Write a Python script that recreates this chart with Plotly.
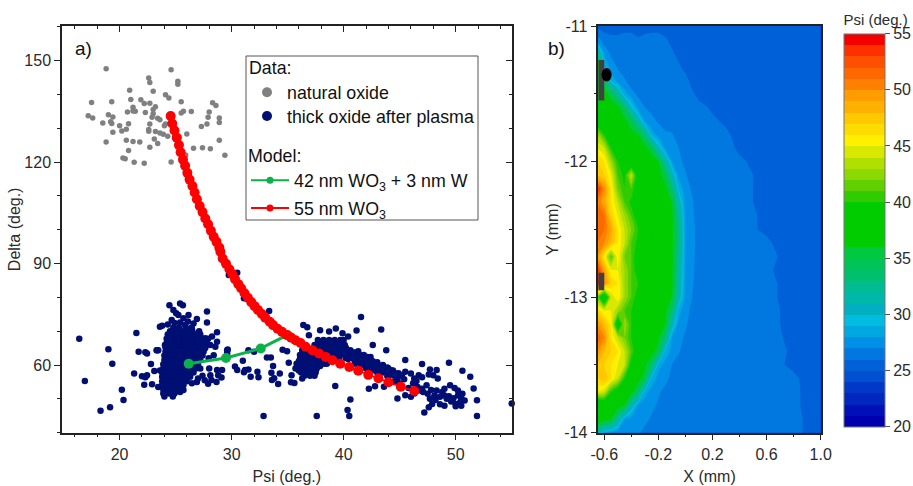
import plotly.graph_objects as go

# ---------- panel a data (Psi, Delta) ----------
natural_oxide = [
 (18.8,147.6),(24.6,147.3),(22.6,144.8),(22.7,143.5),(25.2,143.9),(25.2,143.0),(20.9,141.2),(23.0,140.9),
 (24.1,139.9),(24.4,138.9),(21.0,138.5),(21.9,138.4),(22.2,137.3),(22.7,137.4),(25.5,137.8),(17.5,137.6),
 (19.3,137.8),(28.3,137.5),(28.6,136.7),(21.2,136.2),(23.2,136.3),(23.0,135.5),(20.7,134.8),(21.2,135.1),
 (21.4,135.0),(22.3,134.6),(23.0,134.3),(25.7,135.0),(25.5,134.5),(26.4,134.9),(28.0,134.8),(17.2,133.7),
 (17.6,133.0),(19.0,134.0),(19.4,133.3),(22.9,133.2),(23.4,132.9),(23.6,132.5),(27.9,133.2),(28.9,133.0),
 (28.9,131.7),(18.5,131.5),(19.2,131.9),(19.3,131.4),(20.8,131.3),(20.0,130.7),(22.7,131.2),(24.1,131.2),
 (24.0,130.7),(27.8,131.2),(27.3,130.5),(20.6,129.7),(20.2,129.2),(19.4,128.8),(22.6,129.6),(22.6,129.1),
 (23.2,129.0),(23.6,128.6),(23.9,128.2),(24.3,127.6),(24.8,129.0),(26.0,128.3),(25.3,127.4),(23.1,126.8),
 (23.4,125.5),(20.6,126.4),(21.2,126.1),(21.8,125.9),(18.8,125.9),(28.9,126.4),(22.7,124.4),(20.8,123.4),
 (26.6,124.1),(27.4,124.2),(28.1,123.9),(25.9,122.1),(29.4,122.0),(20.3,121.2),(20.5,121.0),(21.3,119.9),
 (22.2,119.6),(24.6,120.0),
]
thick_sparse = [
 (16.4,67.8),(19.0,64.7),(19.35,60.4),(16.9,55.3),(20.2,52.7),(20.35,49.7),(19.15,47.5),(18.3,46.5),(21.5,69.5),
 (21.7,63.9),(22.3,63.8),(22.45,63.4),(23.35,64.4),(22.8,60.3),(21.3,57.5),(22.0,56.7),(22.45,57.0),(22.3,56.4),
 (23.1,58.2),(22.2,54.2),(22.9,54.3),(32.85,44.9),(37.6,44.9),(40.5,44.9),(40.35,46.7),(40.6,49.8),(39.25,53.8),
 (51.9,44.9),(51.9,49.6),(55.0,48.6),(47.2,46.0),(44.8,50.1),(45.5,51.1),(46.0,50.6),(42.25,53.0),(42.8,53.7),
 (43.6,53.6),(49.4,60.7),(47.0,60.3),(45.5,61.5),(50.6,58.3),(51.3,56.5),(51.6,53.1),(43.8,64.4),(42.6,65.9),
 (43.35,70.5),(41.55,74.2),(41.15,70.2),(40.4,68.4),(39.9,69.4),(39.3,70.8),(38.7,69.9),(37.9,70.3),(36.4,71.8),
 (36.75,71.2),(36.9,68.8),(33.35,76.0),(31.1,79.7),(29.75,86.6),(30.5,87.3),(29.65,64.6),(29.6,63.6),(31.0,61.3),
 (30.3,59.6),(30.5,58.5),(31.2,58.5),(31.5,58.7),(31.1,57.9),(31.7,56.5),(32.3,58.0),(32.4,56.4),(31.5,64.4),
 (32.0,63.9),(33.15,62.2),(33.5,62.2),(33.7,59.7),(34.3,57.5),(33.55,57.7),(33.6,55.6),(33.8,56.1),(34.15,54.4),
 (34.55,64.5),(34.95,64.1),(35.1,60.7),(35.35,57.0),(35.3,54.9),(35.6,54.7),(36.3,56.0),
 # edges of the first cloud
 (24.45,77.7),(25.4,78.2),(25.65,77.7),(24.8,76.3),(25.05,75.3),(24.65,73.3),(25.25,74.8),(25.7,73.8),(26.15,74.8),
 (27.8,75.8),(27.8,72.6),(26.9,73.6),(23.6,71.3),(23.8,71.6),(26.6,72.3),(26.45,70.8),(25.85,71.8),(28.7,69.7),
 (28.25,68.4),(27.65,67.9),(28.7,66.9),(28.1,65.9),(28.55,65.4),(27.65,65.0),(23.45,64.4),(23.3,64.4),(24.05,65.9),
 (29.6,64.4),(29.6,63.0),(27.95,62.0),(28.4,62.9),(29.15,58.5),(28.7,58.5),(28.0,59.0),(28.1,57.0),(28.8,57.0),
 (29.1,56.3),(28.2,55.6),(28.65,55.0),(27.9,54.5),(27.2,59.0),(27.4,56.8),(27.6,55.5),(26.9,55.0),(27.0,56.0),
 (23.9,51.6),(24.0,50.7),(24.75,50.7),(25.4,52.0),(25.7,52.6),(26.45,54.6),(23.6,58.4),(23.45,53.5),
 (24.9,72.4),(25.4,72.6),(24.3,72.0),(26.1,72.9),
 # above the model curve between the clouds and the tail
 (42.1,60.5),(43.0,58.5),(43.9,56.7),(44.8,55.6),(41.6,62.8),(42.4,62.4),(43.0,60.8),(43.5,60.0),(43.9,59.3),
 (44.4,58.4),(44.9,57.6),(40.9,63.6),(41.3,64.1),(39.6,61.9),(40.2,62.1),(40.8,62.4),
 # tail towards high Psi
 (44.5,55.0),(45.0,54.5),(45.4,55.8),(45.8,53.2),(46.2,54.6),(46.6,53.5),(47.0,53.0),(47.4,54.0),(47.8,52.6),
 (48.1,51.0),(47.5,51.5),(47.1,52.0),(46.7,52.5),(46.3,51.6),(47.7,50.0),(48.2,49.7),(47.9,48.5),(47.6,47.5),
 (48.6,50.6),(49.0,51.0),(49.4,50.8),(49.8,50.2),(50.2,51.0),(50.5,50.0),(50.8,49.5),(50.4,49.0),(50.0,48.5),
 (49.6,49.2),(49.2,50.0),(48.8,52.0),(48.3,52.5),(49.0,53.0),(49.5,54.0),(48.4,56.0),(48.0,57.0),(47.6,57.2),
 (48.3,58.5),(47.7,58.7),(46.7,57.0),(46.0,57.5),(45.5,58.0),(45.2,57.0),(46.3,56.0),(47.0,56.4),(46.5,55.3),
 (50.2,52.5),(50.6,51.5),(49.9,53.2),(50.0,47.8),(50.5,48.0),(48.6,48.4),(49.0,48.0),
]
# dense parts of the clouds: one Delta value with the Psi values in that row
thick_dense_rows = [
 (71.0,[24.8,25.3,25.9,26.4]),
 (70.0,[24.5,24.9,25.3,25.7,26.1,26.5,27.1]),
 (69.0,[24.3,24.7,25.1,25.5,25.9,26.3,26.7,27.2]),
 (67.8,[24.2,24.6,25.0,25.4,25.8,26.2,26.6,27.0,27.4,27.9]),
 (66.5,[24.2,24.6,25.0,25.4,25.8,26.2,26.6,27.0,27.4,27.8]),
 (65.2,[24.1,24.5,24.9,25.3,25.7,26.1,26.5,26.9,27.3,27.6]),
 (64.0,[24.1,24.5,24.9,25.3,25.7,26.1,26.5,26.9,27.3,27.5]),
 (62.8,[24.0,24.4,24.8,25.2,25.6,26.0,26.4,26.8,27.2,27.4]),
 (61.5,[24.0,24.4,24.8,25.2,25.6,26.0,26.4,26.8,27.2]),
 (60.2,[23.9,24.3,24.7,25.1,25.5,25.9,26.3,26.7,27.0]),
 (59.0,[23.9,24.3,24.7,25.1,25.5,25.9,26.3,26.8]),
 (57.8,[23.8,24.2,24.6,25.0,25.4,25.8,26.2,26.6]),
 (56.5,[23.8,24.2,24.6,25.0,25.4,25.8,26.3]),
 (55.2,[23.8,24.2,24.6,25.0,25.4,25.8,26.0]),
 (54.0,[23.8,24.2,24.6,25.0,25.4,25.7]),
 (52.8,[23.9,24.3,24.7,25.0,25.3]),
 (51.6,[24.0,24.4,24.9]),
 (67.4,[37.7,38.2,38.7,39.2,39.7,40.0]),
 (66.6,[37.9,38.4,38.9,39.4,39.9]),
 (65.9,[37.4,37.9,38.4,38.9,39.4,39.8,40.1]),
 (65.1,[37.6,38.1,38.6,39.1,39.6,40.2]),
 (64.4,[36.3,36.8,37.3,37.8,38.3,38.8,39.3,39.8,40.3,40.6]),
 (63.7,[36.5,37.0,37.5,38.0,38.5,39.0,39.5,40.0,40.5,41.0]),
 (63.0,[36.1,36.6,37.1,37.6,38.2,38.7,39.2,39.7,40.2,40.7,41.2,41.8]),
 (62.4,[36.3,36.8,37.3,37.8,38.4,40.6,41.1,41.6,42.1]),
 (61.8,[36.1,36.6,37.1,37.6,38.1,38.5,40.4,40.9,41.4,41.9,42.3]),
 (61.1,[36.0,36.5,37.0,37.5,38.0,38.4,41.2,41.7,42.2,42.6]),
 (60.4,[35.8,36.3,36.8,37.3,37.8,38.3,38.5,41.0,41.5,42.0,42.7]),
 (59.7,[35.9,36.4,36.9,37.4,37.9,41.9,42.4,42.9,43.4]),
 (59.0,[35.7,36.2,36.7,37.2,37.6,42.0,42.5,43.0,43.5,44.0]),
 (58.4,[36.0,36.5,37.0,37.5,42.8,43.3,43.8,44.3]),
 (57.8,[36.2,36.7,37.2,37.5,43.0,43.5,44.0,44.5]),
 (56.8,[36.5,37.0,37.4,44.0,44.5,45.0]),
]
thick_psi = [p[0] for p in thick_sparse] + [x for _, row in thick_dense_rows for x in row]
thick_delta = [p[1] for p in thick_sparse] + [d for d, row in thick_dense_rows for _ in row]

model_w_psi = [26.17, 29.5, 32.6, 35.0]
model_w_delta = [60.4, 62.1, 64.9, 68.9]
model_wo3_psi = [24.56,24.7,24.9,25.1,25.3,25.45,25.66,25.85,26.05,26.25,26.5,26.7,26.9,27.15,27.4,27.65,27.9,
 28.15,28.4,28.65,28.9,29.0,29.2,29.5,29.8,30.05,30.3,30.6,30.85,31.15,31.45,31.75,32.05,32.35,32.7,33.0,33.4,33.7,
 34.1,34.5,34.9,35.3,35.7,36.15,36.6,37.2,37.8,38.4,39.0,39.7,40.5,41.3,42.2,43.1,44.0,45.1,46.3]
model_wo3_delta = [133.6,131.4,129.3,127.2,125.0,122.9,120.7,118.9,116.8,114.8,112.9,111.0,109.0,107.0,105.2,103.3,
 101.6,99.7,97.9,96.4,94.7,93.5,91.5,89.9,88.3,86.9,85.4,83.9,82.7,81.2,79.9,78.6,77.4,76.3,75.1,74.0,72.8,71.8,70.7,
 69.8,68.9,68.1,67.3,66.5,65.4,64.4,63.4,62.4,61.4,60.4,59.4,58.3,57.1,56.1,54.9,53.6,52.3]

# ---------- panel b data ----------
map_x = [-0.65,-0.6,-0.55,-0.5,-0.45,-0.4,-0.35,-0.3,-0.25,-0.2,-0.15,-0.1,-0.05,0.0,0.05,0.1,0.2,0.3,0.4,0.6,0.8,1.0]
map_y = [-11.0,-11.1,-11.2,-11.3,-11.4,-11.5,-11.6,-11.7,-11.8,-11.9,-12.0,-12.1,-12.2,-12.3,-12.4,-12.5,-12.6,
         -12.7,-12.8,-12.9,-13.0,-13.1,-13.2,-13.3,-13.4,-13.5,-13.6,-13.7,-13.8,-13.9,-14.0]
map_psi = [
 [25.7,25.6,25.6,25.6,25.7,25.8,25.6,25.7,25.8,25.8,25.6,25.5,25.6,25.6,25.6,25.5,25.5,25.6,25.5,25.5,25.6,25.5],
 [27.5,26.4,26.2,26.2,26.3,26.2,26.1,26.2,26.2,26.2,26.1,25.8,25.7,25.6,25.5,25.5,25.5,25.6,25.5,25.5,25.6,25.5],
 [33,27.8,26.8,26.4,26.4,26.3,26.3,26.2,26.2,26.2,26.2,26.1,25.8,25.7,25.6,25.6,25.6,25.5,25.5,25.5,25.5,25.5],
 [40,29,27.5,26.9,26.5,26.4,26.3,26.3,26.3,26.2,26.2,26.2,26.1,25.8,25.6,25.6,25.6,25.5,25.5,25.5,25.5,25.5],
 [36,34,29,27.4,27.1,26.5,26.3,26.3,26.3,26.3,26.2,26.2,26.2,26.2,25.8,25.7,25.6,25.5,25.5,25.5,25.5,25.5],
 [37,37,35,32,28.5,27.3,26.8,26.4,26.3,26.3,26.3,26.2,26.3,26.2,26.1,25.8,25.6,25.5,25.5,25.5,25.5,25.5],
 [37,37,37,36.5,34,30,27.6,27.0,26.8,26.4,26.3,26.3,26.2,26.2,26.2,26.2,25.9,25.6,25.6,25.5,25.5,25.5],
 [38,37,37,37,36.5,35,31.5,27.9,27.2,26.9,26.5,26.3,26.3,26.2,26.2,26.2,26.1,25.9,25.6,25.6,25.5,25.5],
 [43,40,38,37,37,36.5,36,33.5,28.5,27.5,27.2,27.1,26.5,26.3,26.2,26.2,26.2,26.1,25.8,25.6,25.6,25.5],
 [45,44,40,38,37,37,37,36.5,35,30.5,27.8,27.4,27,26.5,26.3,26.3,26.2,26.2,25.9,25.6,25.5,25.5],
 [47,46,43,40,38,37,37,37,37,36,32,28,27.2,26.8,26.4,26.3,26.2,26.2,26.1,25.7,25.6,25.5],
 [48,47,45,41,39.5,44,38,37,37,37,35,31,27.6,27.1,26.6,26.4,26.3,26.2,26.2,25.8,25.5,25.5],
 [54,50,46,42,40,41,38,37,37,37,36.5,34,29,27.3,26.9,26.4,26.3,26.2,26.2,25.8,25.6,25.5],
 [51,49,46,44,41,39.5,38,37,37,37,37,36,31,27.6,27.1,26.5,26.3,26.3,26.2,25.8,25.6,25.5],
 [52,51,47,45,43,41,38.5,37.5,37,37,37,36.5,32.5,27.8,27.2,26.5,26.3,26.2,26.2,25.9,25.6,25.5],
 [52,51,49,46,44,42,40,38,37,37,37,36.5,33,28,27.3,26.6,26.3,26.2,26.2,25.9,25.6,25.5],
 [51,50,48,46,44,41,39.5,38,37,37,37,36.5,33,28,27.3,26.6,26.4,26.2,26.2,26.1,25.6,25.5],
 [50,46,41,46,42,41,38.5,37.5,37,37,37,36.5,32.5,27.9,27.3,26.5,26.3,26.2,26.2,26.2,25.7,25.5],
 [54,49,45,45,43,41,39,36,37,37,37,36.5,32,27.8,27.2,26.5,26.3,26.2,26.2,26.1,25.7,25.5],
 [55,50,47,46,43,41,40,37.5,37,37,37,36.5,31.5,27.7,27.1,26.5,26.3,26.2,26.2,26.2,25.7,25.5],
 [42,36,44,46,43,41,39,37.5,37,37,37,36,31,27.5,27,26.5,26.3,26.2,26.2,26.2,25.7,25.5],
 [47,45,45,43,41,40,38,37,37,37,36.5,34,28.5,27.3,26.8,26.4,26.3,26.2,26.2,26.2,25.8,25.5],
 [50,48,46,37,43,40,38,37,37,37,36,31,27.6,27.2,26.5,26.3,26.2,26.2,26.2,26.2,25.8,25.5],
 [52,50,46,44,42,40,38,37,37,36.5,33.5,28,27.4,26.8,26.4,26.3,26.2,26.2,26.2,26.3,25.8,25.5],
 [50,48,47,46,44,41,38,37,37,35,29,27.6,27.1,26.6,26.4,26.3,26.2,26.2,26.2,26.3,25.9,25.5],
 [48,47,46,45,44,39,37.5,36.5,34,28.5,27.5,27,26.6,26.4,26.3,26.3,26.2,26.2,26.2,26.2,25.9,25.6],
 [47,48,46,44,40,37.5,37,35,29,27.5,27.2,26.8,26.4,26.3,26.2,26.3,26.2,26.2,26.2,26.2,26.1,25.6],
 [45,44,40,38,37,36.5,34,28.5,27.4,27.1,26.8,26.4,26.5,26.3,26.3,26.2,26.2,26.2,26.2,26.1,26.1,25.7],
 [36,37,37,37,36,31,27.8,27.4,27.2,26.9,26.5,26.4,26.3,26.3,26.3,26.2,26.2,26.2,26.2,26.1,26.1,25.7],
 [38,37,36,32,28,27.5,27.3,27.2,26.9,26.6,26.5,26.4,26.3,26.3,26.3,26.2,26.2,26.2,26.2,26.1,26.1,25.8],
 [32,28.5,27.8,27.3,27.3,27.2,27.1,26.8,26.7,26.6,26.5,26.4,26.3,26.3,26.3,26.2,26.2,26.2,26.2,26.1,26.1,25.8],
]
band_colors = ["#0000B0","#0010B8","#0028C0","#0038C8","#0050D0","#0060D8","#0078E0","#0090E8","#00A8E0","#00BCE0",
 "#00B0C0","#00B8A8","#00BC90","#00C070","#00C458","#00C840","#00CC00","#00CC00","#00CC00","#00CC00",
 "#30CC00","#60D000","#8CD800","#B0E000","#D8E800","#FFF000","#FFDC00","#FFC800","#FFB000","#FF9C00",
 "#FF8000","#FF6800","#FF5000","#FF3000","#F40000"]
psi_ticks = [20,25,30,35,40,45,50,55]

W, H = 913, 486
FONT = "Liberation Sans"
INK = "#2b2b2b"
def px(x): return x / W
def py(y): return 1 - y / H

stepped = []
for i, c in enumerate(band_colors):
    stepped += [[i / 35, c], [(i + 1) / 35, c]]

fig = go.Figure()
fig.add_trace(go.Scatter(x=[p[0] for p in natural_oxide], y=[p[1] for p in natural_oxide], mode="markers",
                         marker=dict(size=5.5, color="#808080"), showlegend=False, name="natural oxide"))
fig.add_trace(go.Scatter(x=thick_psi, y=thick_delta, mode="markers", cliponaxis=False,
                         marker=dict(size=6.5, color="#000F73"), showlegend=False, name="thick oxide after plasma"))
fig.add_trace(go.Scatter(x=model_w_psi, y=model_w_delta, mode="lines+markers", line=dict(color="#0CB14A", width=3),
                         marker=dict(size=10, color="#0CB14A"), showlegend=False))
fig.add_trace(go.Scatter(x=model_wo3_psi, y=model_wo3_delta, mode="lines+markers", line=dict(color="#FF0000", width=1.5),
                         marker=dict(size=10, color="#FF0000"), showlegend=False))
# legend-only entries
fig.add_trace(go.Scatter(x=[None], y=[None], mode="markers", marker=dict(size=10, color="#808080"),
                         name="natural oxide", legend="legend"))
fig.add_trace(go.Scatter(x=[None], y=[None], mode="markers", marker=dict(size=10, color="#000F73"),
                         name="thick oxide after plasma", legend="legend2"))
fig.add_trace(go.Scatter(x=[None], y=[None], mode="lines+markers", line=dict(color="#0CB14A", width=2),
                         marker=dict(size=7, color="#0CB14A"), name="42 nm WO<sub>3</sub> + 3 nm W", legend="legend3"))
fig.add_trace(go.Scatter(x=[None], y=[None], mode="lines+markers", line=dict(color="#FF0000", width=2),
                         marker=dict(size=7, color="#FF0000"), name="55 nm WO<sub>3</sub>", legend="legend4"))
# carries the inward ticks on the top and right of panel a
fig.add_trace(go.Scatter(x=[None], y=[None], xaxis="x3", yaxis="y3", showlegend=False))

fig.add_trace(go.Contour(x=map_x, y=map_y, z=map_psi, xaxis="x2", yaxis="y2", zmin=20, zmax=55,
    autocontour=False, contours=dict(start=20, end=55, size=1, coloring="fill", showlines=False),
    line=dict(width=0, smoothing=0.3), colorscale=stepped,
    colorbar=dict(x=px(844), xanchor="left", xpad=0, ypad=0, y=py(11.7), yanchor="top", lenmode="pixels", len=415,
                  thickness=41, thicknessmode="pixels", outlinecolor="#777777", outlinewidth=1,
                  tickmode="array", tickvals=psi_ticks, ticks="outside", ticklen=5, tickcolor="#555555",
                  tickfont=dict(family=FONT, size=16, color=INK),
                  title=dict(text="Psi (deg.)", side="top", font=dict(family=FONT, size=15, color=INK)))))

common = dict(showgrid=False, zeroline=False, showline=True, linecolor="#222222", linewidth=1.5,
              ticks="outside", ticklen=6, tickwidth=1.2, tickcolor="#222222",
              tickfont=dict(family=FONT, size=16, color=INK))
LEG = dict(family=FONT, size=17.8, color="#111111")
def leg(top, left, width, title=None):
    d = dict(x=px(left), xanchor="left", y=py(top), yanchor="top", bgcolor="rgba(0,0,0,0)", font=LEG,
             itemwidth=width, itemclick=False, itemdoubleclick=False)
    if title:
        d["title"] = dict(text=title, font=LEG)
    return d

fig.update_layout(
    width=W, height=H, paper_bgcolor="white", plot_bgcolor="white", autosize=False,
    margin=dict(l=0, r=0, t=0, b=0, autoexpand=False),
    xaxis=dict(domain=[px(62), px(511.7)], range=[14.86, 55], tickvals=[20,30,40,50], anchor="y",
               minor=dict(ticks="outside", dtick=2, ticklen=3, tickcolor="#222222"),
               title=dict(text="Psi (deg.)", standoff=9, font=dict(family=FONT, size=16, color=INK)), **common),
    yaxis=dict(domain=[py(432.7), py(26)], range=[40, 160.2], tickvals=[60,90,120,150], anchor="x",
               minor=dict(ticks="outside", tickvals=[40,50,70,80,100,110,130,140,160], ticklen=3, tickcolor="#222222"),
               title=dict(text="Delta (deg.)", standoff=0, font=dict(family=FONT, size=16, color=INK)), **common),
    xaxis3=dict(overlaying="x", side="top", anchor="y3", range=[14.86, 55], showgrid=False, zeroline=False,
                showline=True, linecolor="#222222", linewidth=1.5, ticks="inside", ticklen=6, tickcolor="#222222",
                tickvals=[20,30,40,50], showticklabels=False,
                minor=dict(ticks="inside", dtick=2, ticklen=3, tickcolor="#222222")),
    yaxis3=dict(overlaying="y", side="right", anchor="x3", range=[40, 160.2], showgrid=False, zeroline=False,
                showline=True, linecolor="#222222", linewidth=1.5, ticks="inside", ticklen=6, tickcolor="#222222",
                tickvals=[60,90,120,150], showticklabels=False,
                minor=dict(ticks="inside", tickvals=[40,50,70,80,100,110,130,140,160], ticklen=3, tickcolor="#222222")),
    xaxis2=dict(domain=[px(598.3), px(820.7)], range=[-0.644, 1.0], tickvals=[-0.6,-0.2,0.2,0.6,1.0], ticktext=["-0.6","-0.2","0.2","0.6","1.0"],
                anchor="y2", mirror=True,
                minor=dict(ticks="outside", tickvals=[-0.4,0,0.4,0.8], ticklen=3, tickcolor="#222222"),
                title=dict(text="X (mm)", standoff=9, font=dict(family=FONT, size=16, color=INK)), **common),
    yaxis2=dict(domain=[py(432.7), py(26)], range=[-14, -11], tickvals=[-14,-13,-12,-11], ticktext=["-14","-13","-12","-11"],
                anchor="x2", mirror=True,
                minor=dict(ticks="outside", tickvals=[-13.5,-12.5,-11.5], ticklen=3, tickcolor="#222222"),
                title=dict(text="Y (mm)", standoff=2, font=dict(family=FONT, size=16, color=INK)), **common),
    legend=leg(51, 247, 30, "Data:"),
    legend2=leg(98, 247, 30),
    legend3=leg(139, 246, 38, "Model:"),
    legend4=leg(190, 246, 38),
    shapes=[
        dict(type="rect", xref="paper", yref="paper", x0=px(246), x1=px(478), y0=py(220), y1=py(56),
             line=dict(color="#555555", width=1), fillcolor="rgba(0,0,0,0)"),
        dict(type="rect", xref="x2", yref="y2", x0=-0.644, x1=-0.6, y0=-11.55, y1=-11.25, line=dict(width=0), fillcolor="#404040"),
        dict(type="rect", xref="x2", yref="y2", x0=-0.644, x1=-0.6, y0=-12.95, y1=-12.82, line=dict(width=0), fillcolor="#404040"),
        dict(type="circle", xref="x2", yref="y2", x0=-0.62, x1=-0.545, y0=-11.41, y1=-11.31, line=dict(width=0), fillcolor="#000000"),
    ],
    annotations=[
        dict(text="a)", xref="paper", yref="paper", x=px(73), y=py(48), xanchor="left", yanchor="middle", showarrow=False,
             font=dict(family=FONT, size=19, color="#111111")),
        dict(text="b)", xref="paper", yref="paper", x=px(546), y=py(48), xanchor="left", yanchor="middle", showarrow=False,
             font=dict(family=FONT, size=19, color="#111111")),
    ],
)
fig.write_html("out.html", config=dict(displayModeBar=False),
               post_script="document.body.style.margin='0';document.documentElement.style.overflow='hidden';window.dispatchEvent(new Event('resize'));")
